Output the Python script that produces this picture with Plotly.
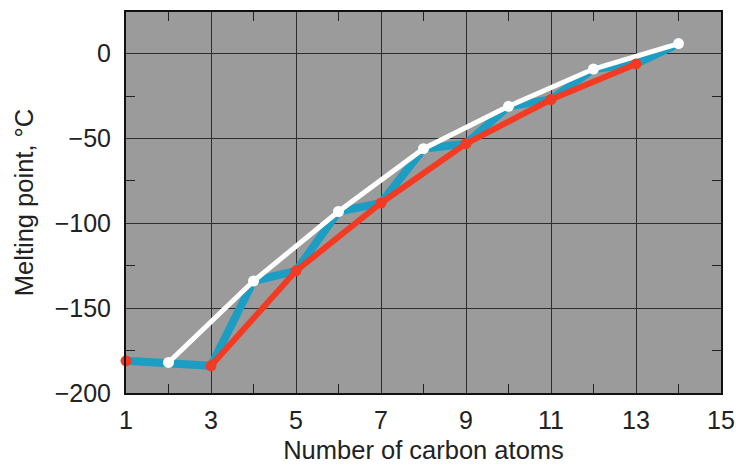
import plotly.graph_objects as go

# melting points of the straight-chain alkanes
carbons = [1, 2, 3, 4, 5, 6, 7, 8, 9, 10, 11, 12, 13, 14]
melting_c = [-181, -182, -184, -134, -128, -93, -88, -56, -53, -31, -27, -9, -6, 6]

x_ticks = [1, 3, 5, 7, 9, 11, 13, 15]
y_ticks = [0, -50, -100, -150, -200]
y_labels = ["0", "\u221250", "\u2212100", "\u2212150", "\u2212200"]

BLUE = "#1b9dc4"
RED = "#f23b22"
WHITE = "#ffffff"
FONT = "Liberation Sans, Arial, sans-serif"

even_x = [c for c in carbons if c % 2 == 0]
even_y = [m for c, m in zip(carbons, melting_c) if c % 2 == 0]
odd_x = [c for c in carbons if c % 2 == 1]
odd_y = [m for c, m in zip(carbons, melting_c) if c % 2 == 1]

fig = go.Figure()
fig.add_trace(go.Scatter(x=carbons, y=melting_c, mode="lines",
                         line=dict(color=BLUE, width=8), hoverinfo="skip"))
fig.add_trace(go.Scatter(x=even_x, y=even_y, mode="lines",
                         line=dict(color=WHITE, width=5), hoverinfo="skip"))
# the odd-number curve starts at propane
fig.add_trace(go.Scatter(x=odd_x[1:], y=odd_y[1:], mode="lines",
                         line=dict(color=RED, width=6), hoverinfo="skip"))
fig.add_trace(go.Scatter(x=even_x, y=even_y, mode="markers", cliponaxis=False,
                         marker=dict(color=WHITE, size=11)))
fig.add_trace(go.Scatter(x=odd_x, y=odd_y, mode="markers", cliponaxis=False,
                         marker=dict(color=RED, size=11)))

axis_common = dict(
    showgrid=True, gridcolor="#2e2e2e", gridwidth=1,
    showline=True, linecolor="#111111", linewidth=2, mirror="allticks",
    ticks="", zeroline=False, automargin=False,
    tickfont=dict(family=FONT, size=25, color="#222222"),
)

fig.update_layout(
    width=736, height=469,
    margin=dict(l=126, r=15, t=12, b=76),
    plot_bgcolor="#9b9b9b", paper_bgcolor="white",
    showlegend=False,
    font=dict(family=FONT, color="#222222"),
    xaxis=dict(
        **axis_common,
        range=[1, 15], tickvals=x_ticks, ticklabelstandoff=4,
        minor=dict(tickvals=even_x, ticks="inside", ticklen=9,
                   tickcolor="#222222", tickwidth=1, showgrid=False),
        title=dict(text="Number of carbon atoms", standoff=8,
                   font=dict(family=FONT, size=25.5, color="#222222")),
    ),
    yaxis=dict(
        **axis_common,
        range=[-200, 24.6], tickvals=y_ticks, ticktext=y_labels,
        ticklabelstandoff=8,
        minor=dict(tickvals=[-25, -75, -125, -175], ticks="inside", ticklen=9,
                   tickcolor="#222222", tickwidth=1, showgrid=False),
        title=dict(text="Melting point, \u00b0C", standoff=14,
                   font=dict(family=FONT, size=25.5, color="#222222")),
    ),
)

# drop the default page margin so the figure sits at the window's corner
fig.write_html("out.html", config={"displayModeBar": False},
               post_script="document.body.style.margin='0';"
                           "document.body.style.overflow='hidden';")
